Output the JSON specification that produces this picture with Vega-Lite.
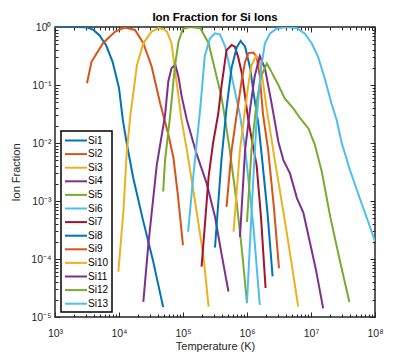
{
  "$schema": "https://vega.github.io/schema/vega-lite/v6.json",
  "width": 320,
  "height": 290,
  "autosize": {"type": "none"},
  "padding": {"left": 55, "top": 27, "right": 40, "bottom": 40},
  "background": "white",
  "title": {"text": "Ion Fraction for Si Ions", "fontSize": 11.5, "fontWeight": "bold", "font": "Liberation Sans", "color": "#000000", "offset": -1, "anchor": "middle"},
  "config": {
    "view": {"stroke": "#262626", "strokeWidth": 1.5},
    "axis": {"labelFont": "Liberation Sans", "titleFont": "Liberation Sans", "labelColor": "#262626", "titleColor": "#262626", "tickColor": "#262626", "labelFontSize": 10.5, "titleFontSize": 11, "titleFontWeight": "normal", "grid": false, "domain": false, "labelOverlap": false, "labelFlush": false},
    "legend": {"labelFont": "Liberation Sans"}
  },
  "data": {"values": [
    {"ion":"Si1","T":1000,"f":1},{"ion":"Si1","T":1995,"f":1},{"ion":"Si1","T":3162,"f":0.989},{"ion":"Si1","T":3981,"f":0.891},{"ion":"Si1","T":5012,"f":0.708},{"ion":"Si1","T":6310,"f":0.479},{"ion":"Si1","T":7943,"f":0.251},{"ion":"Si1","T":10000,"f":0.0891},{"ion":"Si1","T":11480,"f":0.0251},{"ion":"Si1","T":13180,"f":0.01},{"ion":"Si1","T":16600,"f":0.00257},{"ion":"Si1","T":23710,"f":0.000468},{"ion":"Si1","T":33880,"f":0.0000955},{"ion":"Si1","T":48980,"f":0.0000148},
    {"ion":"Si2","T":3162,"f":0.107},{"ion":"Si2","T":3715,"f":0.251},{"ion":"Si2","T":5623,"f":0.525},{"ion":"Si2","T":8710,"f":0.832},{"ion":"Si2","T":12300,"f":0.977},{"ion":"Si2","T":17780,"f":0.891},{"ion":"Si2","T":23990,"f":0.525},{"ion":"Si2","T":32360,"f":0.209},{"ion":"Si2","T":43650,"f":0.0501},{"ion":"Si2","T":58880,"f":0.0141},{"ion":"Si2","T":70790,"f":0.00562},{"ion":"Si2","T":83180,"f":0.00126},{"ion":"Si2","T":100000,"f":0.000174},
    {"ion":"Si3","T":9772,"f":0.0000603},{"ion":"Si3","T":11750,"f":0.000692},{"ion":"Si3","T":13180,"f":0.00661},{"ion":"Si3","T":15140,"f":0.0316},{"ion":"Si3","T":19050,"f":0.219},{"ion":"Si3","T":23990,"f":0.525},{"ion":"Si3","T":32360,"f":0.832},{"ion":"Si3","T":41690,"f":0.955},{"ion":"Si3","T":50120,"f":0.912},{"ion":"Si3","T":56230,"f":0.832},{"ion":"Si3","T":66070,"f":0.525},{"ion":"Si3","T":74990,"f":0.182},{"ion":"Si3","T":85110,"f":0.0631},{"ion":"Si3","T":93330,"f":0.0282},{"ion":"Si3","T":114800,"f":0.00759},{"ion":"Si3","T":162200,"f":0.000692},{"ion":"Si3","T":208900,"f":0.00011},{"ion":"Si3","T":251200,"f":0.0000151},
    {"ion":"Si4","T":23990,"f":0.0000182},{"ion":"Si4","T":28840,"f":0.000186},{"ion":"Si4","T":38900,"f":0.00417},{"ion":"Si4","T":52480,"f":0.0302},{"ion":"Si4","T":58880,"f":0.115},{"ion":"Si4","T":66070,"f":0.195},{"ion":"Si4","T":75860,"f":0.224},{"ion":"Si4","T":85110,"f":0.138},{"ion":"Si4","T":95500,"f":0.0631},{"ion":"Si4","T":114800,"f":0.0251},{"ion":"Si4","T":162200,"f":0.00661},{"ion":"Si4","T":234400,"f":0.002},{"ion":"Si4","T":316200,"f":0.000537},{"ion":"Si4","T":398100,"f":0.000126},{"ion":"Si4","T":512900,"f":0.0000275},
    {"ion":"Si5","T":48980,"f":0.00145},{"ion":"Si5","T":52480,"f":0.00513},{"ion":"Si5","T":63100,"f":0.0302},{"ion":"Si5","T":74990,"f":0.219},{"ion":"Si5","T":85110,"f":0.562},{"ion":"Si5","T":100000,"f":0.933},{"ion":"Si5","T":128800,"f":0.995},{"ion":"Si5","T":186200,"f":0.955},{"ion":"Si5","T":251200,"f":0.525},{"ion":"Si5","T":316200,"f":0.182},{"ion":"Si5","T":398100,"f":0.0631},{"ion":"Si5","T":457100,"f":0.0251},{"ion":"Si5","T":537000,"f":0.00759},{"ion":"Si5","T":691800,"f":0.000912},{"ion":"Si5","T":831800,"f":0.000145},{"ion":"Si5","T":1000000,"f":0.0000174},
    {"ion":"Si6","T":120200,"f":0.000295},{"ion":"Si6","T":144500,"f":0.00263},{"ion":"Si6","T":186200,"f":0.0398},{"ion":"Si6","T":218800,"f":0.316},{"ion":"Si6","T":263000,"f":0.631},{"ion":"Si6","T":316200,"f":0.776},{"ion":"Si6","T":380200,"f":0.741},{"ion":"Si6","T":457100,"f":0.457},{"ion":"Si6","T":537000,"f":0.2},{"ion":"Si6","T":631000,"f":0.0891},{"ion":"Si6","T":776200,"f":0.0302},{"ion":"Si6","T":933300,"f":0.00813},{"ion":"Si6","T":1259000,"f":0.000363},{"ion":"Si6","T":1585000,"f":0.0000162},
    {"ion":"Si7","T":195000,"f":0.0000741},{"ion":"Si7","T":218800,"f":0.000363},{"ion":"Si7","T":251200,"f":0.00263},{"ion":"Si7","T":295100,"f":0.01},{"ion":"Si7","T":354800,"f":0.0316},{"ion":"Si7","T":398100,"f":0.0933},{"ion":"Si7","T":478600,"f":0.398},{"ion":"Si7","T":575400,"f":0.49},{"ion":"Si7","T":645700,"f":0.457},{"ion":"Si7","T":724400,"f":0.309},{"ion":"Si7","T":831800,"f":0.158},{"ion":"Si7","T":933300,"f":0.0631},{"ion":"Si7","T":1047000,"f":0.0251},{"ion":"Si7","T":1259000,"f":0.00813},{"ion":"Si7","T":1413000,"f":0.00417},{"ion":"Si7","T":1660000,"f":0.000501},{"ion":"Si7","T":1950000,"f":0.0000316},
    {"ion":"Si8","T":316200,"f":0.000158},{"ion":"Si8","T":398100,"f":0.00501},{"ion":"Si8","T":478600,"f":0.0398},{"ion":"Si8","T":575400,"f":0.2},{"ion":"Si8","T":691800,"f":0.447},{"ion":"Si8","T":794300,"f":0.575},{"ion":"Si8","T":933300,"f":0.457},{"ion":"Si8","T":1122000,"f":0.195},{"ion":"Si8","T":1259000,"f":0.0759},{"ion":"Si8","T":1514000,"f":0.0204},{"ion":"Si8","T":1698000,"f":0.00617},{"ion":"Si8","T":2089000,"f":0.000631},{"ion":"Si8","T":2512000,"f":0.0000501},
    {"ion":"Si9","T":478600,"f":0.000794},{"ion":"Si9","T":575400,"f":0.00759},{"ion":"Si9","T":691800,"f":0.0316},{"ion":"Si9","T":831800,"f":0.126},{"ion":"Si9","T":933300,"f":0.251},{"ion":"Si9","T":1047000,"f":0.355},{"ion":"Si9","T":1259000,"f":0.363},{"ion":"Si9","T":1413000,"f":0.309},{"ion":"Si9","T":1585000,"f":0.141},{"ion":"Si9","T":1778000,"f":0.0316},{"ion":"Si9","T":2138000,"f":0.00759},{"ion":"Si9","T":2630000,"f":0.000794},{"ion":"Si9","T":3162000,"f":0.0000692},
    {"ion":"Si10","T":616600,"f":0.000295},{"ion":"Si10","T":776200,"f":0.00759},{"ion":"Si10","T":912000,"f":0.0316},{"ion":"Si10","T":1047000,"f":0.1},{"ion":"Si10","T":1175000,"f":0.219},{"ion":"Si10","T":1380000,"f":0.316},{"ion":"Si10","T":1585000,"f":0.251},{"ion":"Si10","T":1778000,"f":0.112},{"ion":"Si10","T":2042000,"f":0.0372},{"ion":"Si10","T":2818000,"f":0.00398},{"ion":"Si10","T":3981000,"f":0.000398},{"ion":"Si10","T":5012000,"f":0.0000794},{"ion":"Si10","T":6310000,"f":0.0000151},
    {"ion":"Si11","T":776200,"f":0.00024},{"ion":"Si11","T":933300,"f":0.00759},{"ion":"Si11","T":1122000,"f":0.0398},{"ion":"Si11","T":1318000,"f":0.141},{"ion":"Si11","T":1585000,"f":0.316},{"ion":"Si11","T":1905000,"f":0.195},{"ion":"Si11","T":2399000,"f":0.0513},{"ion":"Si11","T":3090000,"f":0.0105},{"ion":"Si11","T":3715000,"f":0.00501},{"ion":"Si11","T":4677000,"f":0.00302},{"ion":"Si11","T":6026000,"f":0.00112},{"ion":"Si11","T":7586000,"f":0.000631},{"ion":"Si11","T":9550000,"f":0.0002},{"ion":"Si11","T":12020000,"f":0.0000631},{"ion":"Si11","T":15490000,"f":0.0000141},
    {"ion":"Si12","T":1000000,"f":0.000437},{"ion":"Si12","T":1175000,"f":0.00759},{"ion":"Si12","T":1413000,"f":0.0501},{"ion":"Si12","T":1660000,"f":0.141},{"ion":"Si12","T":2042000,"f":0.234},{"ion":"Si12","T":2399000,"f":0.17},{"ion":"Si12","T":3090000,"f":0.1},{"ion":"Si12","T":3890000,"f":0.0589},{"ion":"Si12","T":5248000,"f":0.0398},{"ion":"Si12","T":6761000,"f":0.0269},{"ion":"Si12","T":9120000,"f":0.0178},{"ion":"Si12","T":11480000,"f":0.00933},{"ion":"Si12","T":14790000,"f":0.00316},{"ion":"Si12","T":19950000,"f":0.000537},{"ion":"Si12","T":28180000,"f":0.0000955},{"ion":"Si12","T":39810000,"f":0.0000182},
    {"ion":"Si13","T":1000000,"f":0.0000178},{"ion":"Si13","T":1202000,"f":0.001},{"ion":"Si13","T":1413000,"f":0.0251},{"ion":"Si13","T":1660000,"f":0.2},{"ion":"Si13","T":1905000,"f":0.525},{"ion":"Si13","T":2291000,"f":0.776},{"ion":"Si13","T":2884000,"f":0.933},{"ion":"Si13","T":4169000,"f":0.995},{"ion":"Si13","T":6026000,"f":0.955},{"ion":"Si13","T":7943000,"f":0.776},{"ion":"Si13","T":10230000,"f":0.525},{"ion":"Si13","T":12880000,"f":0.309},{"ion":"Si13","T":16600000,"f":0.123},{"ion":"Si13","T":20890000,"f":0.0479},{"ion":"Si13","T":25120000,"f":0.0251},{"ion":"Si13","T":30200000,"f":0.01},{"ion":"Si13","T":40740000,"f":0.00339},{"ion":"Si13","T":58880000,"f":0.00105},{"ion":"Si13","T":79430000,"f":0.000417},{"ion":"Si13","T":100000000,"f":0.0002}
  ]},
  "layer": [
    {
      "mark": {"type": "line", "strokeWidth": 2, "clip": true},
      "encoding": {
        "x": {"field": "T", "type": "quantitative",
          "scale": {"type": "log", "domain": [1000, 100000000], "nice": false},
          "axis": {"title": "Temperature (K)", "titlePadding": 0,
            "values": [1000,2000,3000,4000,5000,6000,7000,8000,9000,10000,20000,30000,40000,50000,60000,70000,80000,90000,100000,200000,300000,400000,500000,600000,700000,800000,900000,1000000,2000000,3000000,4000000,5000000,6000000,7000000,8000000,9000000,10000000,20000000,30000000,40000000,50000000,60000000,70000000,80000000,90000000,100000000],
            "labelExpr": "abs(log(datum.value)/LN10 - round(log(datum.value)/LN10)) < 0.000001 ? '10' + ['⁰','¹','²','³','⁴','⁵','⁶','⁷','⁸','⁹'][round(log(datum.value)/LN10)] : ''",
            "tickSize": {"condition": {"test": "abs(log(datum.value)/LN10 - round(log(datum.value)/LN10)) < 0.000001", "value": -5}, "value": -3},
            "labelPadding": 16}},
        "y": {"field": "f", "type": "quantitative",
          "scale": {"type": "log", "domain": [0.00001, 1], "nice": false},
          "axis": {"title": "Ion Fraction", "titlePadding": 9,
            "values": [0.00001,0.00002,0.00003,0.00004,0.00005,0.00006,0.00007,0.00008,0.00009,0.0001,0.0002,0.0003,0.0004,0.0005,0.0006,0.0007,0.0008,0.0009,0.001,0.002,0.003,0.004,0.005,0.006,0.007,0.008,0.009,0.01,0.02,0.03,0.04,0.05,0.06,0.07,0.08,0.09,0.1,0.2,0.3,0.4,0.5,0.6,0.7,0.8,0.9,1],
            "labelExpr": "abs(log(datum.value)/LN10 - round(log(datum.value)/LN10)) < 0.000001 ? '10' + (round(log(datum.value)/LN10) < 0 ? '⁻' : '') + ['⁰','¹','²','³','⁴','⁵','⁶','⁷','⁸','⁹'][abs(round(log(datum.value)/LN10))] : ''",
            "tickSize": {"condition": {"test": "abs(log(datum.value)/LN10 - round(log(datum.value)/LN10)) < 0.000001", "value": -5}, "value": -3},
            "labelPadding": 9}},
        "color": {"field": "ion", "type": "nominal",
          "scale": {"domain": ["Si1","Si2","Si3","Si4","Si5","Si6","Si7","Si8","Si9","Si10","Si11","Si12","Si13"],
            "range": ["#0072BD","#D95319","#EDB120","#7E2F8E","#77AC30","#4DBEEE","#A2142F","#0072BD","#D95319","#EDB120","#7E2F8E","#77AC30","#4DBEEE"]},
          "legend": {"title": null, "orient": "none", "legendX": 6, "legendY": 104,
            "symbolType": "M-1,0H3", "symbolSize": 121, "symbolStrokeWidth": 2,
            "labelOffset": 11, "labelFontSize": 10, "labelColor": "#000000",
            "rowPadding": 1.6, "padding": 3, "strokeColor": "#000000", "fillColor": "white",
            "encode": {"legend": {"update": {"strokeWidth": {"value": 1.5}}}}}}
      }
    },
    {
      "mark": {"type": "line", "opacity": 0},
      "encoding": {
        "x": {"field": "T", "type": "quantitative",
          "scale": {"type": "log", "domain": [1000, 100000000], "nice": false},
          "axis": {"orient": "top", "title": null, "labels": false,
            "values": [1000,2000,3000,4000,5000,6000,7000,8000,9000,10000,20000,30000,40000,50000,60000,70000,80000,90000,100000,200000,300000,400000,500000,600000,700000,800000,900000,1000000,2000000,3000000,4000000,5000000,6000000,7000000,8000000,9000000,10000000,20000000,30000000,40000000,50000000,60000000,70000000,80000000,90000000,100000000],
            "tickSize": {"condition": {"test": "abs(log(datum.value)/LN10 - round(log(datum.value)/LN10)) < 0.000001", "value": -5}, "value": -3}}},
        "y": {"field": "f", "type": "quantitative",
          "scale": {"type": "log", "domain": [0.00001, 1], "nice": false},
          "axis": {"orient": "right", "title": null, "labels": false,
            "values": [0.00001,0.00002,0.00003,0.00004,0.00005,0.00006,0.00007,0.00008,0.00009,0.0001,0.0002,0.0003,0.0004,0.0005,0.0006,0.0007,0.0008,0.0009,0.001,0.002,0.003,0.004,0.005,0.006,0.007,0.008,0.009,0.01,0.02,0.03,0.04,0.05,0.06,0.07,0.08,0.09,0.1,0.2,0.3,0.4,0.5,0.6,0.7,0.8,0.9,1],
            "tickSize": {"condition": {"test": "abs(log(datum.value)/LN10 - round(log(datum.value)/LN10)) < 0.000001", "value": -5}, "value": -3}}},
        "detail": {"field": "ion"}
      }
    }
  ],
  "resolve": {"axis": {"x": "independent", "y": "independent"}}
}
